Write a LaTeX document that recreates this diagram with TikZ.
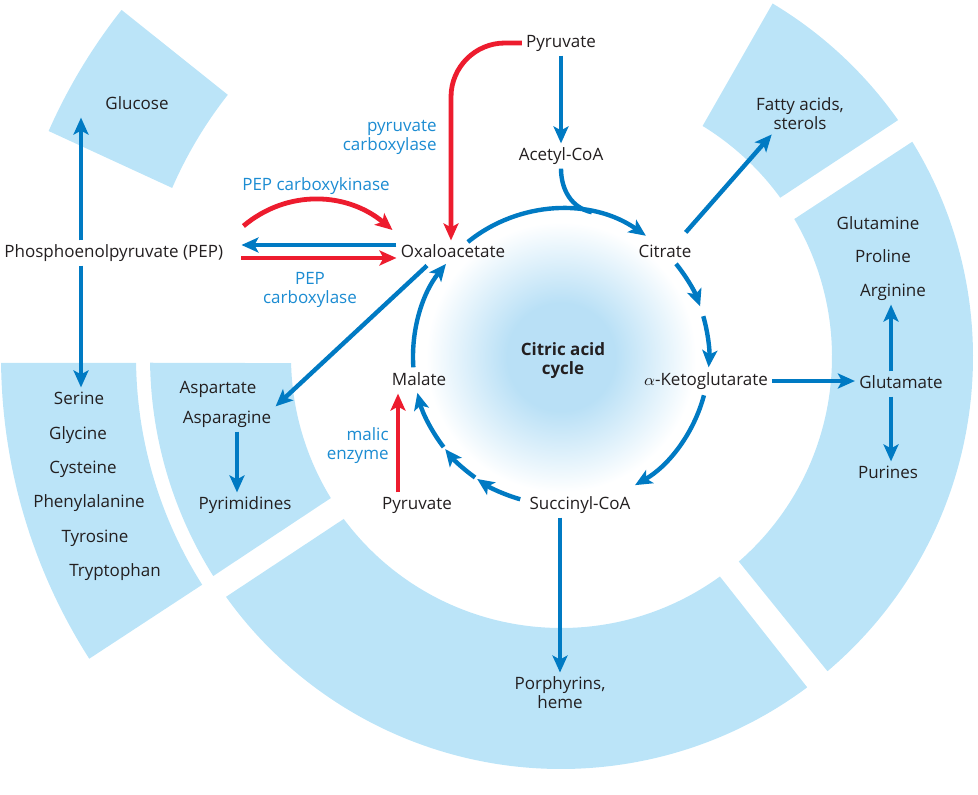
\documentclass[tikz,border=0pt]{standalone}
\usepackage{fontspec}
\setmainfont{Open Sans}
\usetikzlibrary{arrows.meta,calc}

\definecolor{ringblue}{RGB}{187,228,248}
\definecolor{glowblue}{RGB}{185,224,246}
\definecolor{pathblue}{RGB}{0,122,195}
\definecolor{pathred}{RGB}{237,28,46}
\definecolor{enzblue}{RGB}{28,140,210}
\definecolor{txtgray}{RGB}{35,31,32}

\newcommand{\mapfont}{\fontsize{8.5}{9.5}\selectfont}

% soft blue glow in the middle of the cycle
\pgfdeclareradialshading{cycleglow}{\pgfpoint{0bp}{0bp}}{%
  color(0bp)=(glowblue); color(5bp)=(glowblue); color(12.5bp)=(white); color(50bp)=(white)}

\tikzset{
  metab/.style={text=txtgray, font=\mapfont, inner sep=2pt, text height=6.2pt, text depth=2pt},
  metabtwo/.style={text=txtgray, font=\mapfont, inner sep=2pt, align=center},
  enzyme/.style={text=enzblue, font=\mapfont, inner sep=2pt, align=center},
  bline/.style={draw=pathblue, line width=2.2pt},
  barrow/.style={bline, -{Stealth[length=8.5pt,width=7.5pt,inset=2pt]}},
  rarrow/.style={draw=pathred, line width=2.4pt, -{Stealth[length=8.5pt,width=7.5pt,inset=2pt]}}
}

% one piece of the ring: outer arc #1 -> #2 on radius #3, inner arc #4 -> #5 on radius #6
\newcommand{\ringseg}[6]{%
  \fill[ringblue] ($(C)+(#1:#3)$) arc[start angle=#1,end angle=#2,radius=#3]
    -- ($(C)+(#4:#6)$) arc[start angle=#4,end angle=#5,radius=#6] -- cycle;}

\begin{document}
\begin{tikzpicture}[x=0.5pt,y=0.5pt]

\useasboundingbox (0,0) rectangle (978,794);

% Centre of the cycle and of the ring
\coordinate (C) at (561,437);
\def\cyc{148}

% Glow
\shade[shading=cycleglow] (C) circle (270);

% Ring pieces
\ringseg{215.6}{306.7}{412}{305.9}{216.7}{271} % porphyrins
\ringseg{-49.7}{31.5}{412}{30.6}{-49.0}{271}  % glutamate family
\ringseg{35.1}{59.1}{412}{58.5}{36.0}{271}    % fatty acids
\ringseg{180.8}{212.2}{411}{211.5}{181.3}{270} % aspartate
\ringseg{180.6}{212.6}{560}{212.4}{180.8}{425} % serine family
\ringseg{141.7}{156.2}{560}{156.5}{141.8}{424} % glucose

% Metabolites
\node[metab] (glucose) at (137,689) {Glucose};
\node[metabtwo] (fatty) at (800,680) {Fatty acids,\\sterols};
\node[metab] (pyrtop) at (561,751) {Pyruvate};
\node[metab] (acetyl) at (561,638) {Acetyl-CoA};
\node[metab, anchor=west] (pep) at (0,541) {Phosphoenolpyruvate (PEP)};
\node[metab] (oaa) at (453,541) {Oxaloacetate};
\node[metab] (citrate) at (665,541) {Citrate};
\node[metab] (malate) at (419,413) {Malate};
\node[metab] (akg) at (706,413) {$\alpha$-Ketoglutarate};
\node[metab] (pyrbot) at (417,289) {Pyruvate};
\node[metab] (succinyl) at (580,289) {Succinyl-CoA};
\node[metabtwo, font=\mapfont\bfseries] (cac) at (563,433) {Citric acid\\cycle};

\node[metab] (glutamine) at (878,569) {Glutamine};
\node[metab] (proline) at (883,536) {Proline};
\node[metab] (arginine) at (893,502) {Arginine};
\node[metab] (glutamate) at (901,410) {Glutamate};
\node[metab] (purines) at (888,320) {Purines};

\node[metab] (aspartate) at (218,405) {Aspartate};
\node[metab] (asparagine) at (227,375) {Asparagine};
\node[metab] (pyrimidines) at (245,289) {Pyrimidines};

\node[metab] (serine) at (79,394) {Serine};
\node[metab] (glycine) at (78,359) {Glycine};
\node[metab] (cysteine) at (83,325) {Cysteine};
\node[metab] (phenylalanine) at (89,291) {Phenylalanine};
\node[metab] (tyrosine) at (95,256) {Tyrosine};
\node[metab] (tryptophan) at (115,222) {Tryptophan};

\node[metabtwo] (porph) at (560,101) {Porphyrins,\\heme};

% Enzymes
\node[enzyme, align=right, anchor=east] (pclbl) at (441,657) {pyruvate\\carboxylase};
\node[enzyme] (pepcklbl) at (316,608) {PEP carboxykinase};
\node[enzyme] (pepclbl) at (310,504) {PEP\\carboxylase};
\node[enzyme, align=right, anchor=east] (maliclbl) at (393,348) {malic\\enzyme};

% Acetyl-CoA enters the cycle
\coordinate (join) at ($(C)+(78:\cyc)$);
\draw[barrow] (pyrtop.south) -- (acetyl.north);
\draw[bline] (acetyl.south) to[out=-90,in=168] (join);

% Cycle steps
\draw[barrow] ($(C)+(129:\cyc)$) arc[start angle=129,end angle=55,radius=\cyc];
\draw[barrow] ($(C)+(39:\cyc)$) arc[start angle=39,end angle=20,radius=\cyc];
\draw[barrow] ($(C)+(16:\cyc)$) arc[start angle=16,end angle=-4,radius=\cyc];
\draw[barrow] ($(C)+(-15:\cyc)$) arc[start angle=-15,end angle=-60,radius=\cyc];
\draw[barrow] ($(C)+(254:\cyc)$) arc[start angle=254,end angle=235.5,radius=\cyc];
\draw[barrow] ($(C)+(234.5:\cyc)$) arc[start angle=234.5,end angle=218.5,radius=\cyc];
\draw[barrow] ($(C)+(217.5:\cyc)$) arc[start angle=217.5,end angle=194,radius=\cyc];
\draw[barrow] ($(C)+(184:\cyc)$) arc[start angle=184,end angle=141,radius=\cyc];

% Branches out of the cycle
\draw[barrow] ([xshift=-5pt,yshift=4pt]citrate.north east) -- ([xshift=10pt]fatty.south west);
\draw[barrow] (akg.east) -- (akg.east -| glutamate.west);
\draw[barrow] ([xshift=-5pt]glutamate.north) -- ([xshift=-5pt]glutamate.north |- arginine.south);
\draw[barrow] ([xshift=-5pt]glutamate.south) -- ([xshift=-5pt]glutamate.south |- purines.north);
\draw[barrow] ([xshift=-10pt]succinyl.south) -- ([xshift=-10pt]succinyl.south |- porph.north);
\draw[barrow] ([xshift=-13pt]oaa.south) -- (asparagine.north east);
\draw[barrow] ([xshift=5pt]asparagine.south) -- ([xshift=5pt]asparagine.south |- pyrimidines.north);
\draw[barrow] ([yshift=4pt]oaa.west) -- ([xshift=7pt,yshift=4pt]pep.east);
\draw[barrow] ([xshift=40.5pt]pep.north west) -- ([xshift=40.5pt]pep.north west |- glucose.south);
\draw[barrow] ([xshift=40.5pt]pep.south west) -- ([xshift=40.5pt]pep.south west |- serine.north);

% Anaplerotic reactions
\draw[rarrow] ([xshift=7pt,yshift=-2.5pt]pep.east) -- ([yshift=-2.5pt]oaa.west);
\draw[rarrow] ([xshift=8pt,yshift=13.5pt]pep.east) to[out=40,in=140] ([xshift=-2pt,yshift=11.5pt]oaa.west);
\draw[rarrow, rounded corners=27pt] (pyrtop.west) -| ([xshift=-1pt]oaa.north);
\draw[rarrow] ([xshift=-9.5pt]pyrbot.north) -- ([xshift=-10.5pt]malate.south);

\end{tikzpicture}
\end{document}
